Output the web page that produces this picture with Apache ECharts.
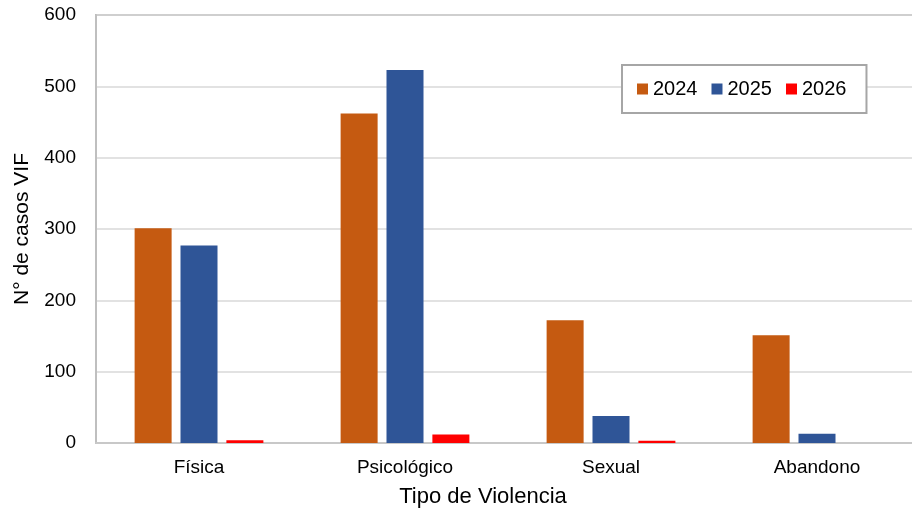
<!DOCTYPE html>
<html>
<head>
<meta charset="utf-8">
<style>
  html, body { margin: 0; padding: 0; background: #fff; }
  #chart { width: 912px; height: 509px; }
</style>
<script src="https://cdn.jsdelivr.net/npm/echarts@6/dist/echarts.min.js"></script>
</head>
<body>
<div id="chart"></div>
<script>
// categorías y casos por año
const categories = ['Física', 'Psicológico', 'Sexual', 'Abandono']
const years = ['2024', '2025', '2026']
const casos2024 = [301, 462, 172, 151]
const casos2025 = [277, 523, 38, 13]
const casos2026 = [4, 12, 3, 0]
const yTicks = [0, 100, 200, 300, 400, 500, 600]

const colors = ['#C55A11', '#2F5597', '#FF0000']
const font = 'Liberation Sans, Arial, sans-serif'

const chart = echarts.init(document.getElementById('chart'), null, { renderer: 'canvas' })

const option = {
  animation: false,
  color: colors,
  textStyle: { fontFamily: font, color: '#000' },
  grid: {
    left: 96,
    right: -8,
    top: 15,
    bottom: 66,
    outerBoundsMode: 'none',
    containLabel: false,
    show: true,
    borderColor: '#b3b3b3',
    borderWidth: 2
  },
  legend: {
    data: years,
    left: 622,
    top: 65,
    padding: [14, 20, 14, 15],
    itemWidth: 11,
    itemHeight: 11,
    itemGap: 14,
    icon: 'rect',
    borderColor: '#a6a6a6',
    borderWidth: 2,
    backgroundColor: '#fff',
    textStyle: { fontSize: 20, fontFamily: font, color: '#000', padding: [0, 0, 0, 0] }
  },
  xAxis: {
    type: 'category',
    data: categories,
    name: 'Tipo de Violencia',
    nameLocation: 'middle',
    nameMoveOverlap: false,
    nameGap: 43,
    nameTextStyle: { fontSize: 22, fontFamily: font, color: '#000', padding: [0, 50, 0, 0] },
    axisLine: { show: true, lineStyle: { color: '#c8c8c8', width: 2 } },
    axisTick: { show: false },
    axisLabel: { fontSize: 19, fontFamily: font, color: '#000', margin: 15 }
  },
  yAxis: {
    type: 'value',
    min: yTicks[0],
    max: yTicks[yTicks.length - 1],
    interval: 100,
    name: 'N° de casos VIF',
    nameLocation: 'middle',
    nameMoveOverlap: false,
    nameGap: 63,
    nameTextStyle: { fontSize: 21, fontFamily: font, color: '#000' },
    axisLine: { show: true, lineStyle: { color: '#bfbfbf', width: 2 } },
    axisTick: { show: false },
    axisLabel: { fontSize: 19, fontFamily: font, color: '#000', margin: 20 },
    splitLine: { show: true, lineStyle: { color: '#d9d9d9', width: 1.5 } }
  },
  series: [
    { name: years[0], type: 'bar', data: casos2024, barWidth: 37, barGap: '24%' },
    { name: years[1], type: 'bar', data: casos2025, barWidth: 37, barGap: '24%' },
    { name: years[2], type: 'bar', data: casos2026, barWidth: 37, barGap: '24%' }
  ]
}

chart.setOption(option)
</script>
</body>
</html>
